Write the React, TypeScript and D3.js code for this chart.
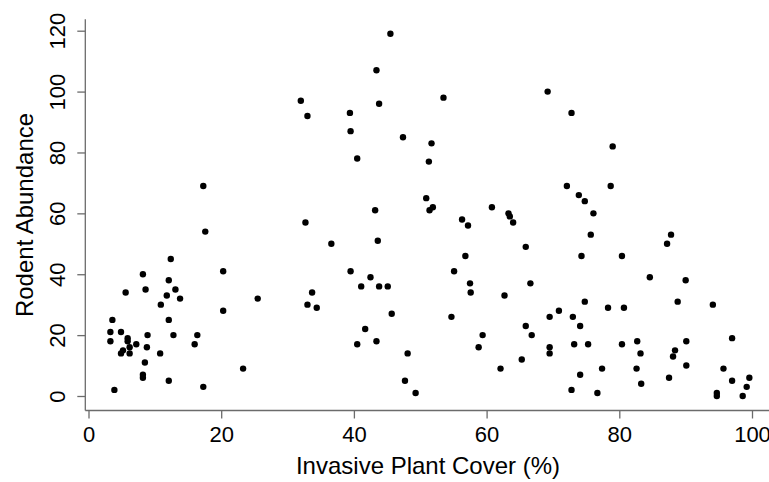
import React, { useEffect, useRef } from "react";
import * as d3 from "d3";

// invasive plant cover (%) and rodent abundance
const coverValues = [
	17.3, 17.6, 12.4, 20.3, 8.2, 12.1, 5.6, 8.6, 13.1, 11.8, 13.8, 25.5, 10.9,
	20.3, 3.6, 12.1, 3.3, 4.9, 8.9, 12.8, 16.4, 5.9, 3.3, 5.9, 7.2, 16.0, 6.2,
	8.8, 5.2, 4.9, 6.2, 10.8, 8.5, 23.3, 8.2, 8.2, 12.1, 17.3, 3.9,
	45.5, 43.4, 32.0, 53.5, 33.0, 39.4, 43.8, 39.5, 47.4, 51.7, 40.5, 51.3, 50.9,
	51.9, 51.4, 43.2, 32.7, 56.3, 57.2, 36.6, 43.6, 56.8, 39.5, 55.1, 42.5, 57.5,
	41.1, 43.8, 45.1, 57.6, 33.7, 33.0, 34.4, 45.7, 54.7, 41.7, 59.4, 40.5, 43.4,
	58.8, 48.1, 47.7, 49.3,
	69.2, 72.8, 79.0, 72.1, 78.7, 73.9, 74.8, 60.8, 63.3, 63.5, 64.0, 76.1, 75.7,
	87.8, 87.2, 65.9, 74.3, 80.4, 84.6, 90.0, 66.6, 62.7, 74.8, 88.8, 78.3, 80.7,
	94.1, 70.9, 69.5, 73.0, 65.9, 74.1, 66.8, 97.0, 69.5, 73.2, 75.3, 80.4, 82.7,
	90.1, 88.4, 69.5, 83.2, 88.1, 65.3, 90.1, 62.1, 74.1, 77.4, 82.6, 95.7, 87.5,
	97.0, 99.6, 83.3, 99.2, 72.8, 76.7, 94.7, 94.7, 98.6,
];

const abundanceValues = [
	69, 54, 45, 41, 40, 38, 34, 35, 35, 33, 32, 32, 30,
	28, 25, 25, 21, 21, 20, 20, 20, 19, 18, 18, 17, 17, 16,
	16, 15, 14, 14, 14, 11, 9, 7, 6, 5, 3, 2,
	119, 107, 97, 98, 92, 93, 96, 87, 85, 83, 78, 77, 65,
	62, 61, 61, 57, 58, 56, 50, 51, 46, 41, 41, 39, 37,
	36, 36, 36, 34, 34, 30, 29, 27, 26, 22, 20, 17, 18,
	16, 14, 5, 1,
	100, 93, 82, 69, 69, 66, 64, 62, 60, 59, 57, 60, 53,
	53, 50, 49, 46, 46, 39, 38, 37, 33, 31, 31, 29, 29,
	30, 28, 26, 26, 23, 23, 20, 19, 16, 17, 17, 17, 18,
	18, 15, 14, 14, 13, 12, 10, 9, 7, 9, 9, 9, 6,
	5, 6, 4, 3, 2, 1, 1, 0, 0,
];

const xTicks = [0, 20, 40, 60, 80, 100];
const yTicks = [0, 20, 40, 60, 80, 100, 120];

const W = 769;
const H = 482;

const App: React.FC = () => {
	const svgRef = useRef<SVGSVGElement | null>(null);

	useEffect(() => {
		const svg = d3.select(svgRef.current);
		svg.selectAll("*").remove();

		const font = "'Liberation Sans', Arial, Helvetica, sans-serif";
		const axisColor = "#6b6b6b";
		const left = 85.3;
		const bottom = 410.5;
		const top = 19.3;

		const x = d3.scaleLinear().domain([0, 100]).range([88.5, 752]);
		const y = d3.scaleLinear().domain([0, 120]).range([396, 30.7]);

		const points = coverValues.map((c, i) => ({ c, a: abundanceValues[i] }));

		// L-shaped frame
		svg.append("line")
			.attr("x1", left)
			.attr("x2", left)
			.attr("y1", top)
			.attr("y2", bottom)
			.attr("stroke", axisColor)
			.attr("stroke-width", 1.3);
		svg.append("line")
			.attr("x1", left)
			.attr("x2", W)
			.attr("y1", bottom)
			.attr("y2", bottom)
			.attr("stroke", axisColor)
			.attr("stroke-width", 1.3);

		const xAxis = svg
			.append("g")
			.attr("transform", `translate(0,${bottom})`)
			.call(d3.axisBottom(x).tickValues(xTicks).tickSize(8).tickSizeOuter(0));
		xAxis.select(".domain").remove();
		xAxis.selectAll("line").attr("stroke", axisColor).attr("stroke-width", 1.3);
		xAxis.selectAll("text")
			.attr("y", 31.5)
			.attr("dy", null)
			.attr("fill", "#000")
			.attr("font-family", font)
			.attr("font-size", 22);

		const yAxis = svg
			.append("g")
			.attr("transform", `translate(${left},0)`)
			.call(d3.axisLeft(y).tickValues(yTicks).tickSize(8).tickSizeOuter(0));
		yAxis.select(".domain").remove();
		yAxis.selectAll("line").attr("stroke", axisColor).attr("stroke-width", 1.3);
		yAxis.selectAll("text")
			.attr("x", null)
			.attr("dy", null)
			.attr("text-anchor", "middle")
			.attr("transform", "translate(-20.5,0) rotate(-90)")
			.attr("fill", "#000")
			.attr("font-family", font)
			.attr("font-size", 22);

		svg.append("g")
			.selectAll("circle")
			.data(points)
			.enter()
			.append("circle")
			.attr("cx", (d) => x(d.c))
			.attr("cy", (d) => y(d.a))
			.attr("r", 3.2)
			.attr("fill", "#000");

		svg.append("text")
			.attr("x", 428)
			.attr("y", 474)
			.attr("text-anchor", "middle")
			.attr("font-family", font)
			.attr("font-size", 24)
			.attr("fill", "#000")
			.text("Invasive Plant Cover (%)");

		svg.append("text")
			.attr("transform", `translate(33,215) rotate(-90)`)
			.attr("text-anchor", "middle")
			.attr("font-family", font)
			.attr("font-size", 24)
			.attr("fill", "#000")
			.text("Rodent Abundance");
	}, []);

	return (
		<svg
			ref={svgRef}
			width={W}
			height={H}
			style={{ position: "absolute", left: 0, top: 0, background: "#fff" }}
		></svg>
	);
};

export default App;
